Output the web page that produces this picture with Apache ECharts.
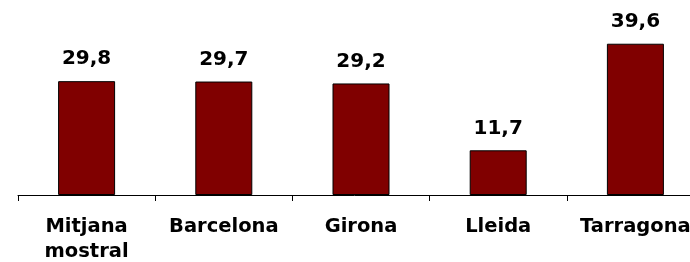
<!DOCTYPE html>
<html lang="ca">
<head>
    <meta charset="UTF-8">
    <title>Mitjana mostral per província</title>
    <script src="https://cdn.jsdelivr.net/npm/echarts@6/dist/echarts.min.js"></script>
</head>
<body style="margin:0;background:#fff;">
<div class="container" style="width:690px;height:262px;"></div>
<script>
    let categories = ['Mitjana\nmostral', 'Barcelona', 'Girona', 'Lleida', 'Tarragona'];
    let values = [29.8, 29.7, 29.2, 11.7, 39.6];

    let container = document.querySelector('.container');
    let mycharts = echarts.init(container);

    let option = {
        backgroundColor: '#ffffff',
        animation: false,
        grid: {
            left: 18,
            right: -14,
            top: 4,
            bottom: 67,
            outerBoundsMode: 'none',
            containLabel: false
        },
        xAxis: {
            type: 'category',
            data: categories,
            axisLine: {lineStyle: {color: '#000', width: 1}},
            axisTick: {show: true, length: 6, inside: false, lineStyle: {color: '#000'}},
            axisLabel: {
                color: '#000',
                fontFamily: 'DejaVu Sans',
                fontWeight: 'bold',
                fontSize: 19.5,
                lineHeight: 25,
                margin: 19,
                interval: 0
            }
        },
        yAxis: {
            type: 'value',
            min: 0,
            max: 50,
            show: false,
            splitLine: {show: false}
        },
        series: [{
            type: 'bar',
            data: values,
            barWidth: 57,
            itemStyle: {
                color: '#800000',
                borderColor: '#000',
                borderWidth: 1
            },
            label: {
                show: true,
                position: 'top',
                distance: 12,
                color: '#000',
                fontFamily: 'DejaVu Sans',
                fontWeight: 'bold',
                fontSize: 20,
                formatter: function (p) {
                    return p.value.toFixed(1).replace('.', ',');
                }
            }
        }]
    };

    mycharts.setOption(option);
</script>
</body>
</html>
